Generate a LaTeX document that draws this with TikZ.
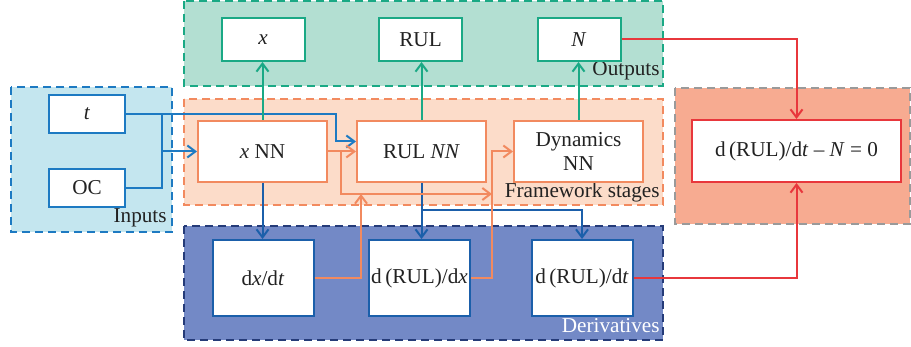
\documentclass[tikz,border=0pt]{standalone}
\usepackage{fontspec}
\setmainfont{Liberation Serif}
\usepackage{tikz}
\usetikzlibrary{arrows.meta}

\definecolor{inblue}{HTML}{1D7AC2}
\definecolor{infill}{HTML}{C4E6EF}
\definecolor{outteal}{HTML}{1AA985}
\definecolor{outfill}{HTML}{B3DFD2}
\definecolor{fworange}{HTML}{F28A5F}
\definecolor{fwfill}{HTML}{FCDCC9}
\definecolor{derblue}{HTML}{1B5FAA}
\definecolor{dernavy}{HTML}{253B78}
\definecolor{derfill}{HTML}{7389C6}
\definecolor{conred}{HTML}{E8373C}
\definecolor{confill}{HTML}{F7AB91}
\definecolor{congray}{HTML}{9A9A9A}
\definecolor{textgray}{HTML}{222222}

\begin{document}
\begin{tikzpicture}[
    x=0.5pt, y=-0.5pt,
    font=\fontsize{10.6}{12.4}\selectfont,
    box/.style={
        draw,
        fill=white,
        line width=1pt,
        inner sep=0pt,
        align=center,
        text=textgray
    },
    inbox/.style={box, draw=inblue, minimum width=38pt, minimum height=19pt},
    outbox/.style={box, draw=outteal, minimum width=41.5pt, minimum height=21.5pt},
    nnbox/.style={box, draw=fworange, minimum width=64.5pt, minimum height=30.5pt},
    derbox/.style={box, draw=derblue, minimum width=50.5pt, minimum height=38pt},
    conbox/.style={box, draw=conred, minimum width=104.5pt, minimum height=31pt},
    grouparea/.style={line width=1pt, dash pattern=on 4pt off 2.5pt},
    grouplabel/.style={anchor=base east, inner sep=0pt, text=textgray},
    link/.style={line width=1pt},
    arrow/.style={link, -{Straight Barb[length=4pt, width=6pt]}}
]

\useasboundingbox (0,0) rectangle (911,347);

% groups
\draw[grouparea, draw=inblue, fill=infill] (11,87) rectangle (172,232);
\draw[grouparea, draw=outteal, fill=outfill] (184,1) rectangle (663,86);
\draw[grouparea, draw=fworange, fill=fwfill] (184,99) rectangle (663,205);
\draw[grouparea, draw=dernavy, fill=derfill] (184,226) rectangle (663,340);
\draw[grouparea, draw=congray, fill=confill] (675,88) rectangle (910,224);

\node[grouplabel] (inlabel) at (167,223) {Inputs};
\node[grouplabel] (outlabel) at (660,76) {Outputs};
\node[grouplabel] (fwlabel) at (660,198) {Framework stages};
\node[grouplabel, text=white] (derlabel) at (660,333) {Derivatives};

% inputs
\node[inbox] (t) at (87,114) {\textit{t}};
\node[inbox] (oc) at (87,188) {OC};

% outputs
\node[outbox] (xout) at (263,39.5) {\textit{x}};
\node[outbox] (rulout) at (420.5,39.5) {RUL};
\node[outbox] (nout) at (579,39.5) {\textit{N}};

% framework stages
\node[nnbox] (xnn) at (262.5,151.5) {\textit{x} NN};
\node[nnbox] (rulnn) at (421.5,151.5) {RUL \textit{NN}};
\node[nnbox] (dynnn) at (578.5,151.5) {Dynamics\\NN};

% derivatives
\node[derbox] (dxdt) at (263,278) {d\textit{x}/d\textit{t}};
\node[derbox] (drdx) at (419.5,278) {d\,(RUL)/d\textit{x}};
\node[derbox] (drdt) at (582,278) {d\,(RUL)/d\textit{t}};

% constraint
\node[conbox] (constr) at (796.5,151) {d\,(RUL)/d\textit{t} -- \textit{N} = 0};

% helper points
\coordinate (inbus) at (162,114);
\coordinate (tbend) at (336,114);
\coordinate (xsplit) at (341,151.5);
\coordinate (dynbus) at (492,194);
\coordinate (dxin) at (361,194);
\coordinate (rulsplit) at (421.5,210);

% input connectors
\draw[arrow, inblue] (t.east) -- (tbend) |- ([yshift=5pt]rulnn.west);
\draw[link, inblue] (oc.east) -| (inbus);
\draw[arrow, inblue] (inbus |- xnn.west) -- (xnn.west);

% outputs
\draw[arrow, outteal] (xnn.north) -- (xout.south -| xnn.north);
\draw[arrow, outteal] (rulnn.north) -- (rulout.south -| rulnn.north);
\draw[arrow, outteal] (dynnn.north) -- (nout.south -| dynnn.north);

% derivatives
\draw[arrow, derblue] (xnn.south) -- (dxdt.north -| xnn.south);
\draw[arrow, derblue] (rulnn.south) -- (drdx.north -| rulnn.south);
\draw[arrow, derblue] (rulsplit) -| (drdt.north);

% framework links
\draw[arrow, fworange] (xnn.east) -- (rulnn.west);
\draw[arrow, fworange] (xsplit) |- (dynbus);
\draw[arrow, fworange] (dxdt.east) -| (dxin);
\draw[arrow, fworange] (drdx.east) -| (dynbus) |- (dynnn.west);

% constraint links
\draw[arrow, conred] (nout.east) -| (constr.north);
\draw[arrow, conred] (drdt.east) -| (constr.south);

\end{tikzpicture}
\end{document}
